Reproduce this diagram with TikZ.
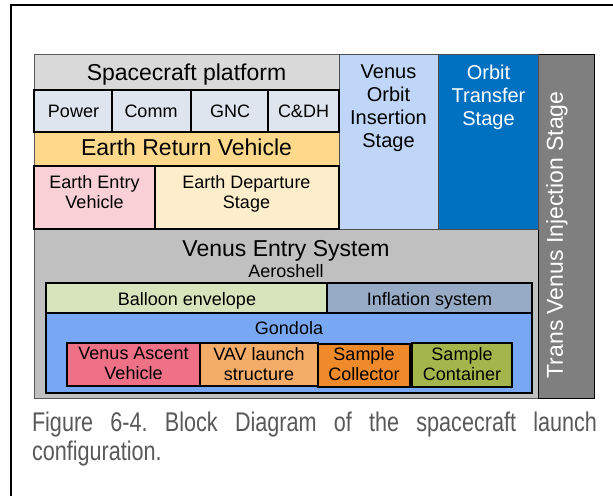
\documentclass[tikz,border=0pt]{standalone}
\usepackage{fontspec}
\setmainfont{Liberation Sans}
\newfontfamily\capfont[FakeStretch=0.8]{Liberation Sans}
\definecolor{thinc}{HTML}{5A5A5A}
\definecolor{spc}{HTML}{D9D9D9}
\definecolor{subc}{HTML}{DEE5EF}
\definecolor{ervc}{HTML}{FFD98B}
\definecolor{eevc}{HTML}{F8D0D6}
\definecolor{edsc}{HTML}{FDEECB}
\definecolor{voisc}{HTML}{C0D6F8}
\definecolor{otsc}{HTML}{0070C0}
\definecolor{tvic}{HTML}{7F7F7F}
\definecolor{vesc}{HTML}{C0C0C0}
\definecolor{balc}{HTML}{D8E4BC}
\definecolor{infc}{HTML}{97AAC6}
\definecolor{gonc}{HTML}{78A8F4}
\definecolor{vavc}{HTML}{EF7186}
\definecolor{vlsc}{HTML}{F4AC69}
\definecolor{scolc}{HTML}{EF8A2B}
\definecolor{sconc}{HTML}{A3B54B}
\definecolor{capc}{HTML}{595959}
\newcommand\fbig{\fontsize{23bp}{27bp}\selectfont}
\newcommand\fmid{\fontsize{20bp}{23bp}\selectfont}
\newcommand\fsml{\fontsize{18bp}{20bp}\selectfont}
\newcommand\ftvi{\fontsize{23bp}{26bp}\selectfont}
\newcommand\fcap{\capfont\fontsize{27bp}{29bp}\selectfont\frenchspacing}
\begin{document}
\begin{tikzpicture}[x=1bp,y=-1bp,
  thinbox/.style={draw=thinc, line width=1bp, inner sep=0pt, outer sep=0pt, anchor=north west},
  thickbox/.style={draw=black, line width=2.8bp, inner sep=0pt, outer sep=0pt, anchor=north west},
  lbl/.style={inner sep=0pt, outer sep=0pt, text=black},
  frameline/.style={draw=black, line width=1.5bp}]
\useasboundingbox (0,0) rectangle (613,496);
\fill[white] (0,0) rectangle (613,496);
% page frame
\coordinate (fa) at (11,496);
\coordinate (fb) at (11,5);
\coordinate (fc) at (613,5);
\draw[frameline] (fa) -- (fb) -- (fc);
% thin-bordered blocks
\node[thinbox, fill=vesc, minimum width=504bp, minimum height=169bp] (ves) at (34,229) {};
\node[thinbox, fill=tvic, draw=black, minimum width=56bp, minimum height=343bp] (tvi) at (538,55) {};
\node[thinbox, fill=spc, minimum width=305bp, minimum height=35bp] (sp) at (34,55) {};
\node[thinbox, fill=ervc, minimum width=305bp, minimum height=34bp] (erv) at (34,132) {};
\node[thinbox, fill=voisc, draw=black!70, minimum width=99bp, minimum height=174bp] (vois) at (339,55) {};
\node[thinbox, fill=otsc, draw=black!70, minimum width=100bp, minimum height=174bp] (ots) at (438,55) {};
% thick-bordered blocks
\node[thickbox, fill=subc, minimum width=78bp, minimum height=42bp] (pow) at (34,90) {};
\node[thickbox, fill=subc, minimum width=79bp, minimum height=42bp] (com) at (112,90) {};
\node[thickbox, fill=subc, minimum width=77bp, minimum height=42bp] (gnc) at (191,90) {};
\node[thickbox, fill=subc, minimum width=71bp, minimum height=42bp] (cdh) at (268,90) {};
\node[thickbox, fill=eevc, minimum width=121bp, minimum height=63bp] (eev) at (34,166) {};
\node[thickbox, fill=edsc, minimum width=184bp, minimum height=63bp] (eds) at (155,166) {};
\node[thickbox, fill=balc, minimum width=281bp, minimum height=30bp] (bal) at (46,283) {};
\node[thickbox, fill=infc, minimum width=205bp, minimum height=30bp] (inf) at (327,283) {};
\node[thickbox, fill=gonc, minimum width=486bp, minimum height=80bp] (gon) at (46,313) {};
\node[thickbox, fill=vavc, minimum width=133bp, minimum height=43bp] (vav) at (67,343) {};
\node[thickbox, fill=vlsc, minimum width=118bp, minimum height=43bp] (vls) at (200,343) {};
\node[thickbox, fill=scolc, minimum width=92bp, minimum height=43bp] (scol) at (318,344) {};
\node[thickbox, fill=sconc, minimum width=100bp, minimum height=44bp] (scon) at (412,343) {};
% labels
\node[lbl, font=\fbig, anchor=base] (tsp) at (186.5,81) {Spacecraft platform};
\node[lbl, font=\fsml, anchor=base] (tpow) at (73.5,118) {Power};
\node[lbl, font=\fsml, anchor=base] (tcom) at (151,118) {Comm};
\node[lbl, font=\fsml, anchor=base] (tgnc) at (230,118) {GNC};
\node[lbl, font=\fsml, anchor=base] (tcdh) at (303.5,118) {C\&DH};
\node[lbl, font=\fbig, anchor=base] (terv) at (186.5,156) {Earth Return Vehicle};
\node[lbl, font=\fsml, anchor=north, align=center] (teev) at (94.5,175.5) {Earth Entry\\Vehicle};
\node[lbl, font=\fsml, anchor=north, align=center] (teds) at (246.5,175.5) {Earth Departure\\Stage};
\node[lbl, font=\fmid, anchor=north, align=center] (tvois) at (388.5,65) {Venus\\Orbit\\Insertion\\Stage};
\node[lbl, font=\fmid, anchor=north, align=center, text=white] (tots) at (488.5,65) {Orbit\\Transfer\\Stage};
\node[lbl, font=\ftvi, rotate=90, text=white] (ttvi) at (557,235) {Trans Venus Injection Stage};
\node[lbl, font=\fbig, anchor=base] (tves) at (286,256) {Venus Entry System};
\node[lbl, font=\fsml, anchor=base] (taer) at (286,277) {Aeroshell};
\node[lbl, font=\fsml, anchor=base] (tbal) at (187,305) {Balloon envelope};
\node[lbl, font=\fsml, anchor=base] (tinf) at (429.5,305) {Inflation system};
\node[lbl, font=\fsml, anchor=base] (tgon) at (289,334.5) {Gondola};
\node[lbl, font=\fsml, anchor=north, align=center] (tvav) at (133.5,347.5) {Venus Ascent\\Vehicle};
\node[lbl, font=\fsml, anchor=north, align=center] (tvls) at (259,347.5) {VAV launch\\structure};
\node[lbl, font=\fsml, anchor=north, align=center] (tscol) at (364,347.5) {Sample\\Collector};
\node[lbl, font=\fsml, anchor=north, align=center] (tscon) at (462,347.5) {Sample\\Container};
% caption
\node[lbl, font=\fcap, text=capc, anchor=north west, text width=565bp, align=justify] (cap) at (32,412)
  {Figure 6-4. Block Diagram of the spacecraft launch\linebreak configuration.};
\end{tikzpicture}
\end{document}
